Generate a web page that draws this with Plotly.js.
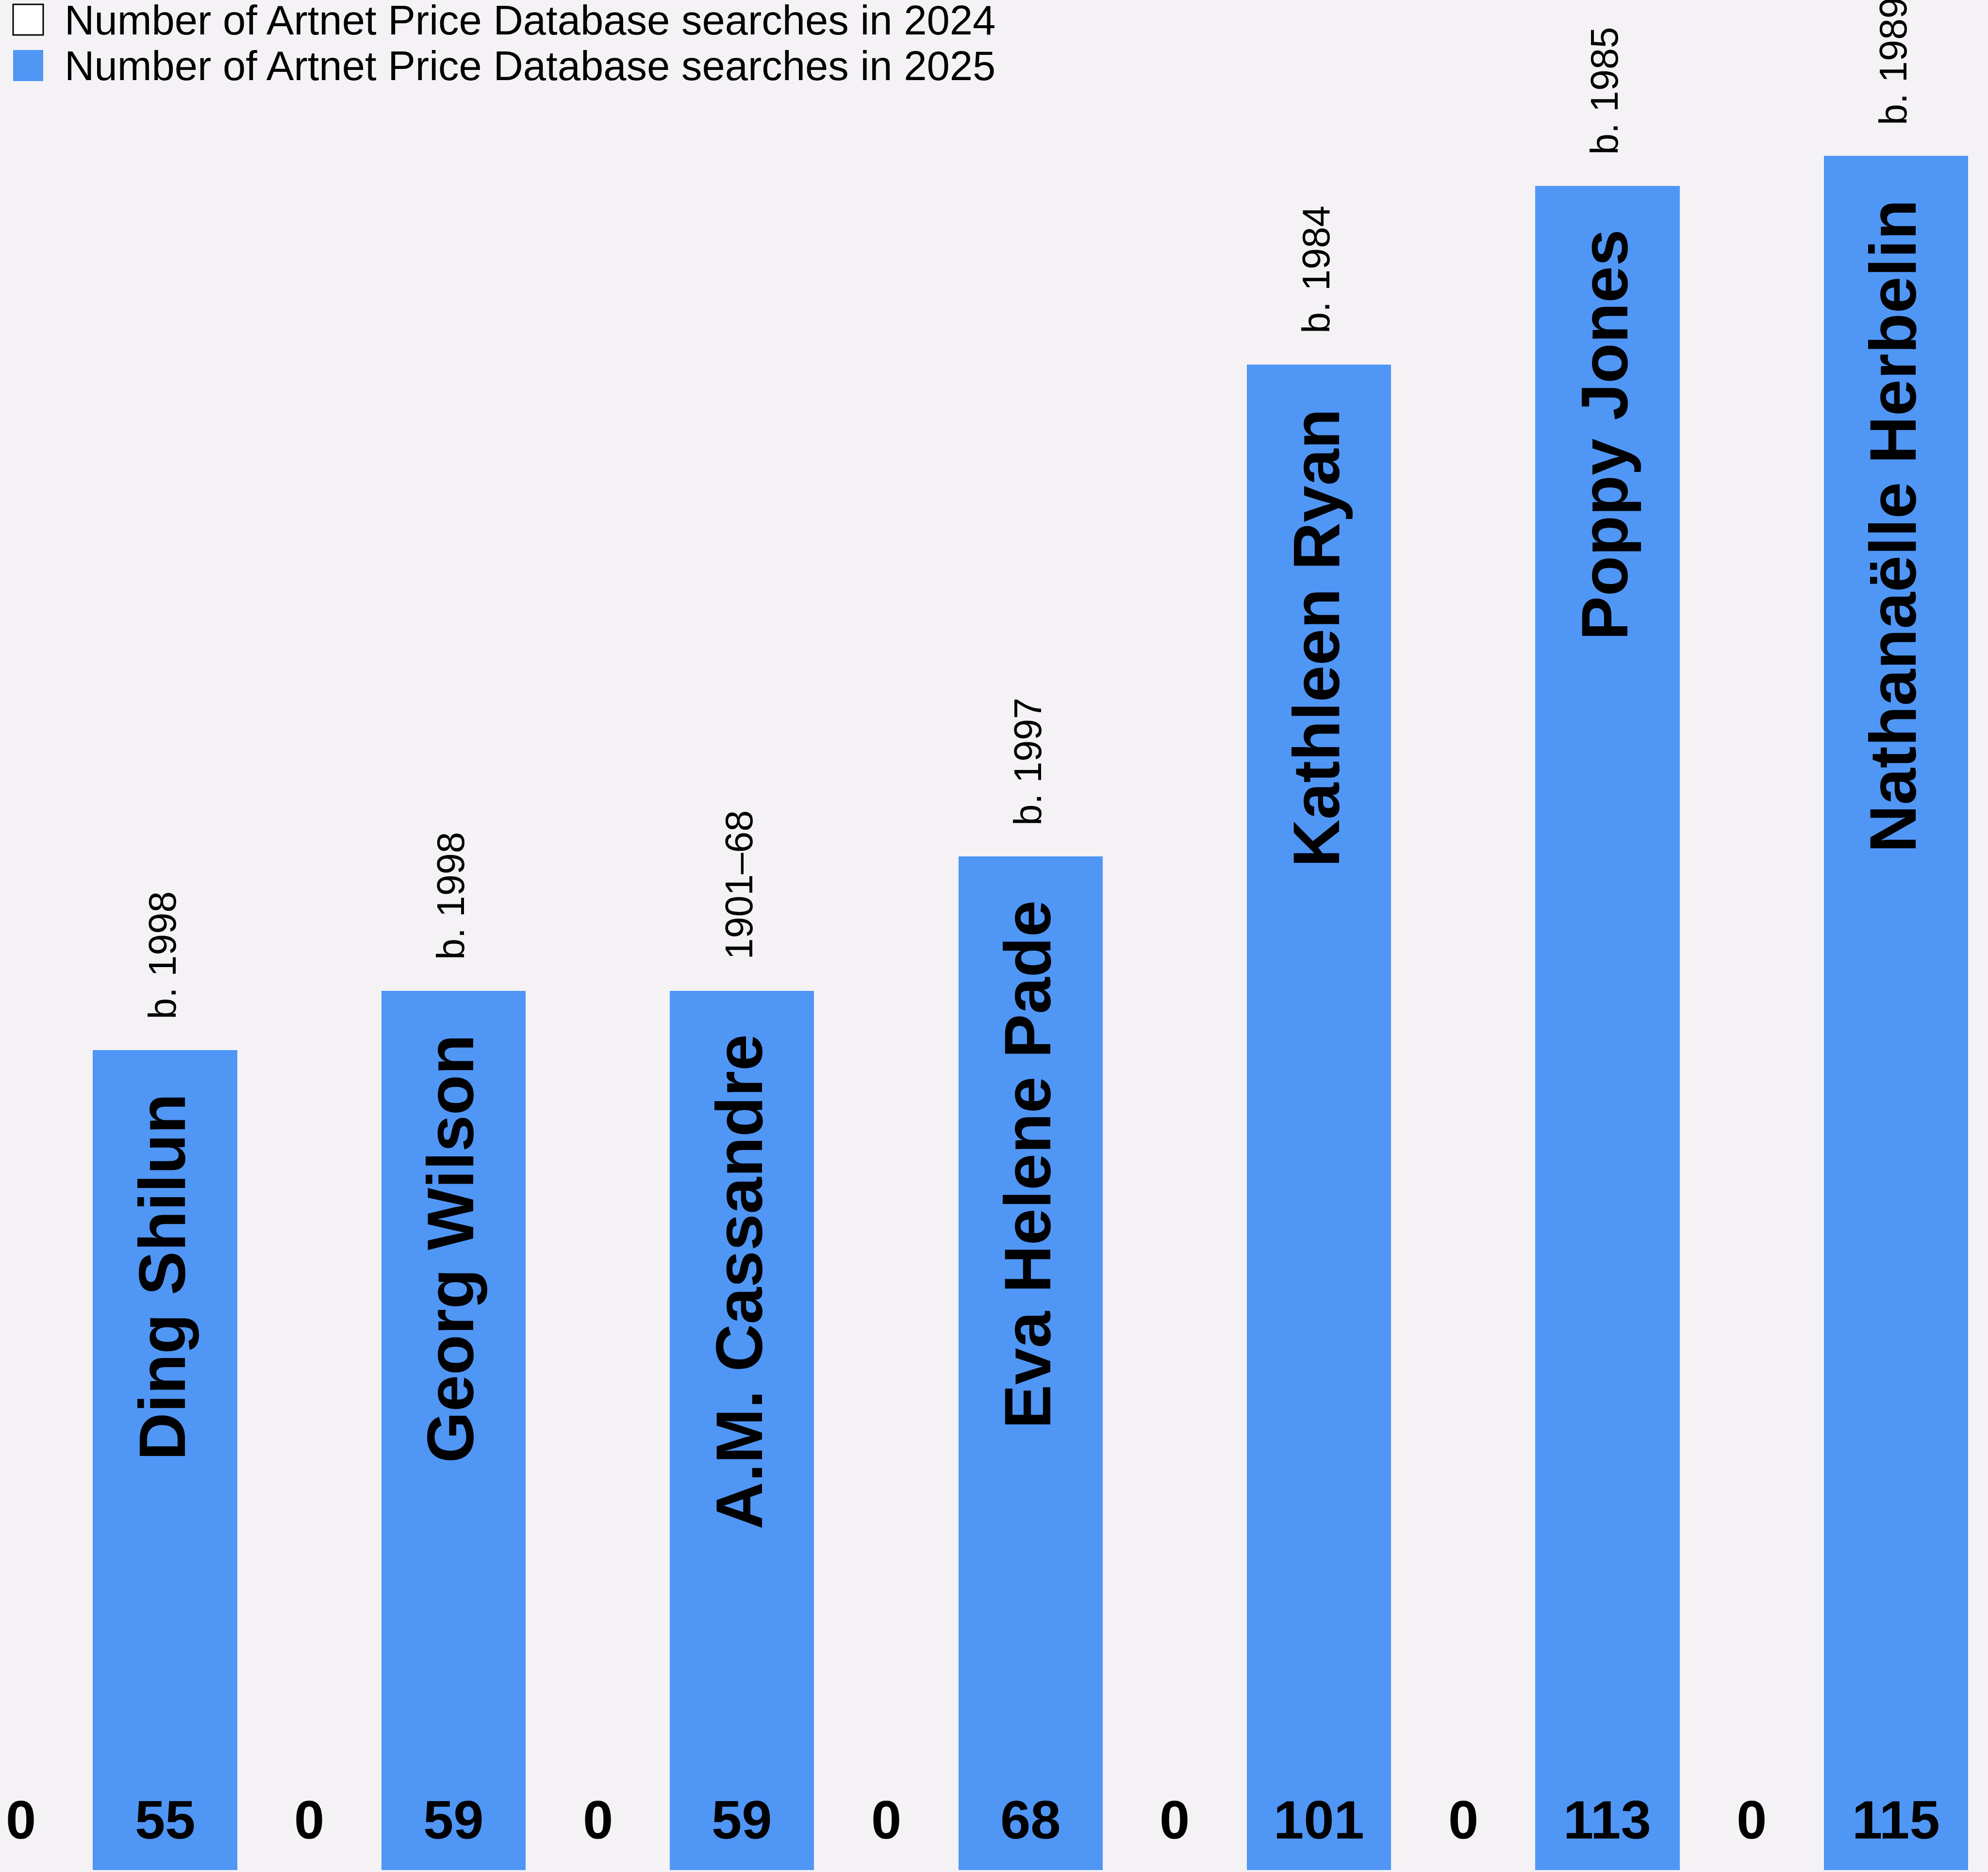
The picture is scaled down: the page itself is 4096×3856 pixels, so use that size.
<!DOCTYPE html>
<html>
<head>
<meta charset="utf-8">
<script src="https://cdn.plot.ly/plotly-3.0.1.min.js"></script>
<style>
  html, body { margin: 0; padding: 0; background: #f4f2f5; }
  #chart { width: 4096px; height: 3856px; }
</style>
</head>
<body>
<div id="chart"></div>
<script>
// ---- data ----
const artists = ["Ding Shilun", "Georg Wilson", "A.M. Cassandre", "Eva Helene Pade", "Kathleen Ryan", "Poppy Jones", "Nathanaëlle Herbelin"];
const lifespans = ["b. 1998", "b. 1998", "1901–68", "b. 1997", "b. 1984", "b. 1985", "b. 1989"];
const searches2024 = [0, 0, 0, 0, 0, 0, 0];
const searches2025 = [55, 59, 59, 68, 101, 113, 115];
const seriesNames = ["Number of Artnet Price Database searches in 2024", "Number of Artnet Price Database searches in 2025"];

// ---- styles ----
const W = 4096, H = 3856;
const BG = "#f4f2f5";
const BLUE = "#5096f5";
const FONT = "Liberation Sans, Arial, sans-serif";
const margin = {l: 0, r: 0, t: 0, b: 4};
const plotH = H - margin.t - margin.b;
const px2x = p => p / W;
const px2y = p => 1 - p / plotH;

const idx = artists.map((_, i) => i);

const traces = [
  {
    type: "bar", name: seriesNames[0], x: idx, y: searches2024,
    marker: {color: "#ffffff", line: {width: 0}},
    hoverinfo: "skip", showlegend: false
  },
  {
    type: "bar", name: seriesNames[1], x: idx, y: searches2025,
    marker: {color: BLUE, line: {width: 0}},
    hoverinfo: "skip", showlegend: false
  }
];

const annotations = [];
idx.forEach(i => {
  // artist names inside bars
  annotations.push({
    x: i + 0.25, y: searches2025[i], xref: "x", yref: "y",
    text: artists[i], showarrow: false, textangle: -90,
    xanchor: "center", yanchor: "top", yshift: -88, xshift: -6,
    font: {family: FONT, size: 136, color: "#000", weight: "bold"}
  });
  // lifespans above bars
  annotations.push({
    x: i + 0.25, y: searches2025[i], xref: "x", yref: "y",
    text: lifespans[i], showarrow: false, textangle: -90,
    xanchor: "center", yanchor: "bottom", yshift: 62, xshift: -6,
    font: {family: FONT, size: 79, color: "#000"}
  });
  // values at the bottom
  annotations.push({
    x: i - 0.25, y: 0, xref: "x", yref: "y",
    text: String(searches2024[i]), showarrow: false,
    xanchor: "center", yanchor: "bottom", yshift: 39,
    font: {family: FONT, size: 112, color: "#000", weight: "bold"}
  });
  annotations.push({
    x: i + 0.25, y: 0, xref: "x", yref: "y",
    text: String(searches2025[i]), showarrow: false,
    xanchor: "center", yanchor: "bottom", yshift: 39,
    font: {family: FONT, size: 112, color: "#000", weight: "bold"}
  });
});

// custom legend
const legendRows = [
  {top: 9, bottom: 72, fill: "#ffffff", line: {color: "#000", width: 3}},
  {top: 103, bottom: 167, fill: BLUE, line: {width: 0}}
];
const shapes = [];
legendRows.forEach((r, k) => {
  shapes.push({
    type: "rect", xref: "paper", yref: "paper",
    x0: px2x(27), x1: px2x(89), y0: px2y(r.bottom), y1: px2y(r.top),
    fillcolor: r.fill, line: r.line
  });
  annotations.push({
    xref: "paper", yref: "paper", x: px2x(131), y: px2y((r.top + r.bottom) / 2 + 1),
    xanchor: "left", yanchor: "middle", showarrow: false,
    text: seriesNames[k],
    font: {family: FONT, size: 85, color: "#000"}
  });
});

const layout = {
  width: W, height: H,
  margin: margin,
  paper_bgcolor: BG, plot_bgcolor: BG,
  barmode: "group", bargap: 0, bargroupgap: 0,
  showlegend: false,
  xaxis: {type: "linear", range: [-0.322, 6.569], showgrid: false, zeroline: false,
          showticklabels: false, ticks: "", showline: false, fixedrange: true},
  yaxis: {range: [0, 125.47], showgrid: false, zeroline: false,
          showticklabels: false, ticks: "", showline: false, fixedrange: true},
  annotations: annotations,
  shapes: shapes
};

Plotly.newPlot("chart", traces, layout, {displayModeBar: false, staticPlot: true});
</script>
</body>
</html>
